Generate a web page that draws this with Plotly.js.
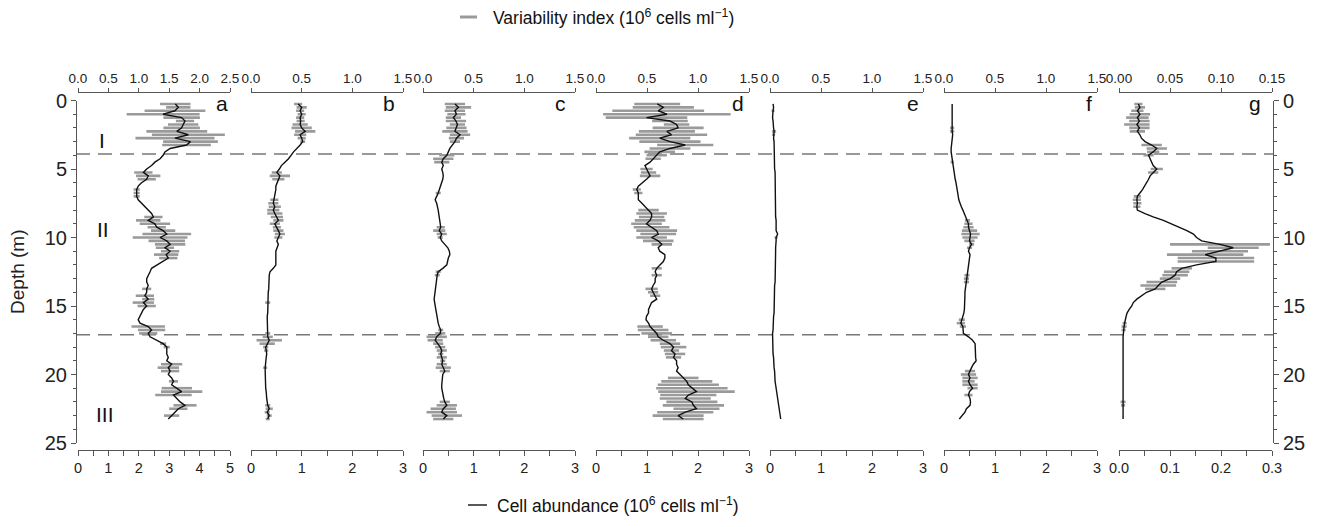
<!DOCTYPE html>
<html>
<head>
<meta charset="utf-8">
<script src="https://cdn.plot.ly/plotly-3.0.1.min.js"></script>
<style>html,body{margin:0;padding:0;background:#fff;}#chart{width:1320px;height:527px;}</style>
</head>
<body>
<div id="chart"></div>
<script>
// ---------------- DATA ----------------
const depth = [0.25,0.5,0.75,1,1.25,1.5,1.75,2,2.25,2.5,2.75,3,3.25,3.5,3.75,4,4.25,4.5,4.75,5,5.25,5.5,5.75,6,6.25,6.5,6.75,7,7.25,7.5,7.75,8,8.25,8.5,8.75,9,9.25,9.5,9.75,10,10.25,10.5,10.75,11,11.25,11.5,11.75,12,12.25,12.5,12.75,13,13.25,13.5,13.75,14,14.25,14.5,14.75,15,15.25,15.5,15.75,16,16.25,16.5,16.75,17,17.25,17.5,17.75,18,18.25,18.5,18.75,19,19.25,19.5,19.75,20,20.25,20.5,20.75,21,21.25,21.5,21.75,22,22.25,22.5,22.75,23,23.25];

const cellA = [3.2,3.3,3.19,2.8, 3.41,3.52,3.46,3.41, 3.25,3.63,3.19,3.7, 3.57,3.03,2.86,2.8, 2.7,2.53,2.42,2.26, 2.15,2.31,2.26,2.09, 1.98,1.93,1.93,1.93, 1.98,2.09,2.2,2.31, 2.42,2.48,2.31,2.53, 2.59,2.8,2.92,2.7, 2.92,3.03,2.86,3.03, 2.9,2.97,2.8,2.59, 2.42,2.37,2.31,2.26, 2.26,2.31,2.26,2.26, 2.2,2.31,2.15,2.26, 2.15,2.09,2.04,1.98, 2.04,2.31,2.42,2.31, 2.37,2.59,2.8,2.92, 2.92,2.92,2.97,2.92, 3.08,2.97,3.03,2.97, 3.08,3.14,3.08,3.25, 3.41,3.14,3.25,3.36, 3.52,3.3,3.19,3.08, 2.97];
const varA = [0.5,0.4,1.0,1.2, 0.6,0.3,0.5,0.6, 1.0,1.2,1.3,0.9, 0.8,0,0,0, 0,0,0,0, 0.3,0.4,0.3,0, 0,0.1,0.1,0.1, 0,0,0,0, 0,0.3,0.4,0.5, 0.3,0.4,0.8,0.9, 0.6,0.5,0.3,0.3, 0.4,0.3,0,0, 0,0,0,0, 0,0,0.15,0, 0.3,0.2,0.35,0.3, 0,0,0,0, 0,0.55,0.45,0.3, 0,0,0.1,0.1, 0,0,0,0, 0.35,0.35,0.3,0, 0,0.15,0,0.5, 0.68,0.6,0,0, 0.38,0.3,0,0.25, 0];

const cellB = [0.93,1.0,0.97,1.0, 0.97,0.98,0.97,1.0, 1.07,0.97,1.0,1.02, 0.97,0.9,0.84,0.79, 0.74,0.67,0.6,0.56, 0.51,0.57,0.54,0.51, 0.49,0.49,0.48,0.47, 0.46,0.44,0.47,0.44, 0.47,0.51,0.54,0.47, 0.51,0.54,0.57,0.54, 0.51,0.54,0.51,0.49, 0.49,0.49,0.49,0.49, 0.44,0.375,0.36,0.36, 0.36,0.35,0.35,0.34, 0.34,0.34,0.33,0.33, 0.33,0.33,0.32,0.32, 0.32,0.32,0.32,0.33, 0.33,0.36,0.32,0.29, 0.3,0.31,0.3,0.29, 0.29,0.28,0.28,0.28, 0.28,0.29,0.29,0.29, 0.3,0.3,0.31,0.32, 0.33,0.36,0.32,0.36, 0.33];
const varB = [0.08,0.1,0.08,0.08, 0.08,0.08,0.15,0.2, 0.2,0.12,0.08,0.05, 0,0,0,0, 0,0,0,0, 0.1,0.2,0.12,0, 0,0,0,0, 0.08,0.1,0.12,0.12, 0.15,0.12,0.1,0.1, 0.08,0.1,0.1,0.08, 0,0,0,0, 0,0,0,0, 0,0,0,0, 0,0,0,0, 0,0,0.05,0, 0,0,0,0, 0,0,0,0.05, 0.1,0.25,0.15,0.05, 0.04,0,0,0, 0,0.04,0,0, 0,0,0,0, 0,0,0,0, 0.05,0.07,0.05,0.05, 0.04];

const cellC = [0.63,0.7,0.63,0.66, 0.6,0.65,0.68,0.66, 0.63,0.73,0.66,0.63, 0.57,0.53,0.5,0.47, 0.4,0.37,0.4,0.37, 0.39,0.4,0.39,0.37, 0.35,0.32,0.3,0.27, 0.24,0.27,0.29,0.3, 0.31,0.32,0.33,0.34, 0.35,0.32,0.37,0.34, 0.37,0.43,0.49,0.52, 0.53,0.5,0.49,0.47, 0.39,0.3,0.28,0.27, 0.27,0.26,0.25,0.24, 0.23,0.22,0.23,0.24, 0.25,0.26,0.27,0.28, 0.3,0.32,0.35,0.34, 0.27,0.24,0.3,0.34, 0.37,0.35,0.37,0.39, 0.37,0.4,0.43,0.39, 0.38,0.37,0.37,0.37, 0.38,0.39,0.41,0.43, 0.47,0.4,0.37,0.47, 0.4];
const varC = [0.2,0.25,0.2,0.18, 0.15,0.2,0.15,0.2, 0.25,0.2,0.15,0.1, 0,0,0,0.15, 0.2,0.15,0,0, 0,0,0,0, 0,0,0.05,0, 0,0,0,0, 0,0,0,0, 0.08,0.12,0.1,0.05, 0,0,0,0, 0,0,0,0, 0,0.05,0.05,0, 0,0,0,0, 0,0,0,0, 0,0,0,0, 0,0,0.05,0.1, 0.2,0.15,0.1,0.1, 0.1,0.05,0.1,0.05, 0.1,0.15,0.1,0, 0,0,0,0, 0,0,0,0.1, 0.2,0.25,0.3,0.3, 0.2];

const cellD = [1.2,1.32,1.22,1.39, 0.99,1.45,1.58,1.61, 1.39,1.48,1.25,1.45, 1.75,1.45,1.25,1.19, 1.12,1.06,0.96,0.99, 1.03,1.06,0.99,0.9, 0.83,0.8,0.83,0.83, 0.83,0.9,0.96,1.03, 1.09,1.09,1.06,0.99, 1.09,1.19,1.22,1.09, 1.22,1.29,1.22,1.25, 1.35,1.35,1.32,1.25, 1.19,1.16,1.19,1.16, 1.16,1.12,1.09,1.12, 1.16,1.19,1.09,1.06, 1.03,1.03,0.99,0.98, 1.03,1.06,1.12,1.19, 1.22,1.32,1.45,1.52, 1.48,1.55,1.52,1.58, 1.58,1.61,1.58,1.65, 1.71,1.78,1.81,1.88, 1.97,1.81,1.75,1.88, 1.91,1.97,1.75,1.61, 1.71];
const varD = [0.45,0.6,0.9,1.25, 0.8,0.35,0.25,0.5, 0.55,0.7,0.6,0.6, 0.55,0.4,0.3,0.2, 0.15,0,0,0.12, 0.15,0.2,0,0, 0,0.08,0.08,0, 0,0,0,0.2, 0.3,0.25,0.3,0.3, 0.35,0.4,0.35,0.3, 0.3,0.2,0,0, 0,0,0,0, 0.1,0,0.1,0, 0,0,0.12,0.1, 0.1,0,0,0, 0,0,0,0, 0,0.25,0.3,0.3, 0.2,0.25,0.2,0.25, 0.15,0.2,0.15,0, 0,0,0,0, 0.3,0.5,0.6,0.7, 0.75,0.55,0.5,0.5, 0.6,0.45,0.55,0.5, 0.4];

const cellE = [0.06,0.07,0.06,0.05, 0.05,0.06,0.06,0.07, 0.08,0.07,0.07,0.08, 0.08,0.08,0.08,0.08, 0.09,0.09,0.09,0.09, 0.1,0.1,0.1,0.1, 0.1,0.1,0.1,0.11, 0.11,0.11,0.11,0.11, 0.11,0.11,0.12,0.12, 0.12,0.12,0.15,0.12, 0.12,0.11,0.11,0.11, 0.11,0.11,0.1,0.1, 0.1,0.1,0.1,0.1, 0.1,0.09,0.09,0.09, 0.09,0.09,0.08,0.08, 0.08,0.08,0.07,0.07, 0.07,0.07,0.06,0.05, 0.05,0.06,0.06,0.06, 0.06,0.06,0.07,0.07, 0.08,0.08,0.09,0.09, 0.1,0.1,0.11,0.12, 0.13,0.14,0.15,0.16, 0.17,0.18,0.19,0.2, 0.21];
const varE = [0,0,0.03,0, 0,0,0,0, 0.04,0.03,0,0, 0,0,0,0, 0,0,0,0, 0,0,0,0, 0,0,0,0, 0,0,0,0, 0,0,0,0, 0,0,0,0.03, 0,0,0,0, 0,0,0,0, 0,0,0,0, 0,0,0,0, 0,0,0,0, 0,0,0,0, 0,0,0,0, 0,0,0,0, 0,0,0,0, 0,0,0,0, 0,0,0,0, 0,0,0,0, 0,0,0,0, 0];

const cellF = [0.16,0.16,0.15,0.15, 0.15,0.16,0.16,0.16, 0.16,0.17,0.16,0.15, 0.14,0.14,0.14,0.15, 0.15,0.16,0.17,0.18, 0.19,0.2,0.22,0.235, 0.25,0.26,0.27,0.28, 0.29,0.31,0.34,0.37, 0.4,0.43,0.46,0.48, 0.48,0.5,0.52,0.51, 0.5,0.54,0.5,0.48, 0.51,0.5,0.49,0.48, 0.47,0.46,0.45,0.44, 0.44,0.43,0.42,0.41, 0.41,0.41,0.41,0.41, 0.4,0.39,0.37,0.35, 0.33,0.37,0.38,0.38, 0.48,0.56,0.61,0.61, 0.61,0.61,0.62,0.63, 0.575,0.54,0.51,0.48, 0.51,0.48,0.51,0.56, 0.5,0.48,0.51,0.52, 0.51,0.44,0.41,0.35, 0.3];
const varF = [0,0,0,0, 0,0,0,0.04, 0.04,0,0,0, 0,0,0,0, 0,0.03,0,0, 0,0,0,0, 0,0,0,0, 0,0,0,0, 0,0,0.05,0.08, 0.1,0.15,0.18,0.15, 0.1,0.05,0.05,0, 0,0,0,0, 0,0,0.05,0.05, 0.05,0,0,0, 0,0,0,0, 0,0,0,0.06, 0.08,0.06,0,0, 0,0,0,0, 0,0,0,0, 0,0,0.1,0.15, 0.15,0.12,0.15,0.1, 0,0.08,0,0, 0,0,0,0, 0];

const cellG = [0.038,0.041,0.036,0.041, 0.036,0.04,0.035,0.04, 0.036,0.041,0.044,0.051, 0.064,0.074,0.067,0.058, 0.061,0.064,0.067,0.074, 0.067,0.061,0.058,0.054, 0.051,0.046,0.041,0.036, 0.035,0.036,0.035,0.036, 0.051,0.067,0.087,0.103, 0.12,0.133,0.146,0.152, 0.162,0.198,0.224,0.198, 0.169,0.19,0.19,0.152, 0.123,0.113,0.11,0.1, 0.084,0.077,0.071,0.054, 0.044,0.035,0.028,0.025, 0.02,0.016,0.014,0.012, 0.011,0.01,0.009,0.0085, 0.008,0.008,0.008,0.007, 0.007,0.007,0.007,0.007, 0.007,0.007,0.007,0.007, 0.007,0.007,0.007,0.007, 0.007,0.007,0.007,0.008, 0.008,0.008,0.008,0.008, 0.008];
const varG = [0.008,0.01,0.012,0.02, 0.022,0.02,0.025,0.02, 0.015,0,0,0, 0.02,0.02,0.012,0.01, 0,0,0,0.012, 0.01,0,0,0, 0,0,0,0.007, 0.008,0.008,0.007,0, 0,0,0,0, 0,0,0,0, 0,0.098,0.05,0.055, 0.075,0.075,0.075,0, 0.02,0.025,0.025,0.02, 0.03,0.035,0.02,0, 0,0,0,0, 0,0,0,0, 0.004,0.005,0.004,0, 0,0,0,0, 0,0,0,0, 0,0,0,0, 0,0,0,0, 0,0,0,0.005, 0.004,0,0,0, 0];

const panelLetters = ['a','b','c','d','e','f','g'];
const zoneLabels = ['I','II','III'];
const zoneDepths = [2.9, 9.45, 22.95];
const boundaryDepths = [3.9, 17.1];
const bottomRanges = [[0,5],[0,3],[0,3],[0,3],[0,3],[0,3],[0,0.3]];
const topRanges = [[0,2.5],[0,1.5],[0,1.5],[0,1.5],[0,1.5],[0,1.5],[0,0.15]];
const legendTop = 'Variability index (10<sup>6</sup> cells ml<sup>−1</sup>)';
const legendBottom = 'Cell abundance (10<sup>6</sup> cells ml<sup>−1</sup>)';

const cells = [cellA,cellB,cellC,cellD,cellE,cellF,cellG];
const vars = [varA,varB,varC,varD,varE,varF,varG];

// ---------------- LAYOUT GEOMETRY ----------------
const L = 76, R = 1273, T = 92, B = 450;
const W = R - L, H = B - T;
const px = p => (p - L) / W;
const py = p => (B - p) / H;
const panelStart = [78, 251, 423, 596, 770, 944, 1119];
const panelEnd = [230, 403, 575, 749, 923, 1097, 1272];
const letterRight = [230, 397, 568, 746, 921, 1094, 1263];
const FONT = 'Liberation Sans, Arial, Helvetica, sans-serif';
const AX = '#555';

const traces = [];
const layout = {
  width: 1320, height: 527,
  margin: {l: L, r: 1320 - R, t: T, b: 527 - B, pad: 0},
  paper_bgcolor: '#fff', plot_bgcolor: 'rgba(0,0,0,0)',
  showlegend: false,
  font: {family: FONT, color: '#222'},
  shapes: [], annotations: []
};

const yCommon = {
  domain: [py(443), py(100.5)],
  range: [25, 0], autorange: false,
  anchor: 'free',
  showline: true, linecolor: AX, linewidth: 1,
  ticks: 'outside', ticklen: 5, tickcolor: AX, tickwidth: 1,
  dtick: 5, tick0: 0,
  minor: {dtick: 1, ticks: 'outside', ticklen: 3, tickcolor: AX, tickwidth: 1},
  tickfont: {size: 20, color: '#222', family: FONT},
  showgrid: false, zeroline: false
};
layout.yaxis = Object.assign({}, yCommon, {position: 0, side: 'left',
  title: {text: 'Depth (m)', font: {size: 19, color: '#222', family: FONT}, standoff: 14}});
layout.yaxis2 = Object.assign({}, yCommon, {position: 1, side: 'right', overlaying: 'y'});

for (let i = 0; i < 7; i++) {
  const nb = 2 * i + 1, nt = 2 * i + 2;
  const dom = [px(panelStart[i]), px(panelEnd[i])];
  const isG = i === 6;
  layout['xaxis' + nb] = {
    domain: dom, range: bottomRanges[i], anchor: 'free', position: 0, side: 'bottom',
    showline: true, linecolor: AX, linewidth: 1,
    ticks: 'outside', ticklen: 5, tickcolor: AX,
    dtick: isG ? 0.1 : 1, tick0: 0, tickformat: isG ? '.1f' : 'd',
    minor: {dtick: isG ? 0.05 : 0.5, ticks: 'outside', ticklen: 5, tickcolor: AX},
    tickfont: {size: 14.5, color: '#222', family: FONT},
    showgrid: false, zeroline: false
  };
  layout['xaxis' + nt] = {
    domain: dom, range: topRanges[i], anchor: 'free', position: 1, side: 'top',
    overlaying: 'x' + (nb === 1 ? '' : nb),
    showline: true, linecolor: AX, linewidth: 1,
    ticks: 'outside', ticklen: 4, tickcolor: AX,
    dtick: isG ? 0.05 : 0.5, tick0: 0, tickformat: isG ? '.2f' : '.1f',
    tickfont: {size: 13.5, color: '#222', family: FONT},
    showgrid: false, zeroline: false
  };
  const xb = 'x' + (nb === 1 ? '' : nb);
  // variability bars
  traces.push({
    x: cells[i], y: depth, xaxis: xb, yaxis: 'y', type: 'scatter', mode: 'markers',
    marker: {color: 'rgba(0,0,0,0)', size: 2},
    error_x: {type: 'data', array: vars[i], symmetric: true, color: '#9a9a9a', thickness: 2.6, width: 0},
    hoverinfo: 'skip', cliponaxis: false
  });
  // abundance line
  traces.push({
    x: cells[i], y: depth, xaxis: xb, yaxis: 'y', type: 'scatter', mode: 'lines',
    line: {color: '#111', width: 1.4}, hoverinfo: 'skip'
  });
  // keep the top (variability) axis attached
  traces.push({x: [null], y: [null], xaxis: 'x' + nt, yaxis: 'y', type: 'scatter', mode: 'lines', hoverinfo: 'skip'});

  layout.annotations.push({
    text: panelLetters[i], xref: 'paper', yref: 'y', x: px(letterRight[i]), y: 0.25,
    xanchor: 'right', yanchor: 'middle', showarrow: false,
    font: {size: 21, color: '#111', family: FONT}
  });
}
// right depth axis
traces.push({x: [null], y: [null], xaxis: 'x13', yaxis: 'y2', type: 'scatter', mode: 'lines', hoverinfo: 'skip'});

// zone boundaries
boundaryDepths.forEach(d => layout.shapes.push({
  type: 'line', xref: 'paper', yref: 'y', x0: 0, x1: 1, y0: d, y1: d,
  line: {color: '#777', width: 1.5, dash: '14px,8px'}, layer: 'below'
}));
// zone labels
const zoneX = [102, 102.5, 105];
zoneLabels.forEach((t, k) => layout.annotations.push({
  text: t, xref: 'paper', yref: 'y', x: px(zoneX[k]), y: zoneDepths[k],
  xanchor: 'center', yanchor: 'middle', showarrow: false,
  font: {size: 21, color: '#111', family: FONT}
}));

// legends
layout.shapes.push({type: 'line', xref: 'paper', yref: 'paper', x0: px(460), x1: px(477), y0: py(17), y1: py(17),
  line: {color: '#9a9a9a', width: 3}});
layout.annotations.push({text: legendTop, xref: 'paper', yref: 'paper', x: px(491), y: py(17),
  xanchor: 'left', yanchor: 'middle', showarrow: false,
  font: {size: 17.5, color: '#111', family: FONT}});
layout.shapes.push({type: 'line', xref: 'paper', yref: 'paper', x0: px(468), x1: px(487), y0: py(505), y1: py(505),
  line: {color: '#222', width: 1.5}});
layout.annotations.push({text: legendBottom, xref: 'paper', yref: 'paper', x: px(495), y: py(505),
  xanchor: 'left', yanchor: 'middle', showarrow: false,
  font: {size: 17.5, color: '#111', family: FONT}});

Plotly.newPlot('chart', traces, layout, {staticPlot: true, displayModeBar: false});
</script>
</body>
</html>
